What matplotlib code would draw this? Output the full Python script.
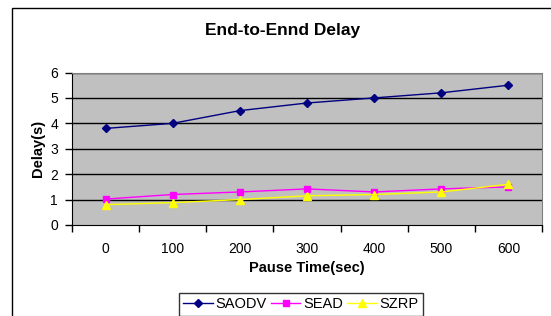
import matplotlib
matplotlib.use("Agg")
import matplotlib.pyplot as plt
from matplotlib.patches import Rectangle

categories = ["0", "100", "200", "300", "400", "500", "600"]
saodv = [3.8, 4.0, 4.5, 4.8, 5.0, 5.2, 5.5]
sead = [1.02, 1.2, 1.3, 1.42, 1.3, 1.42, 1.5]
szrp = [0.8, 0.88, 1.0, 1.15, 1.2, 1.3, 1.6]
yticks = [0, 1, 2, 3, 4, 5, 6]

plt.rcParams['font.family'] = ['Liberation Sans', 'DejaVu Sans']

W, H = 551, 316
fig = plt.figure(figsize=(W/100, H/100), dpi=100)
fig.patches.append(Rectangle((12/W, -0.1), 1.2, 1 - 8/H + 0.1, transform=fig.transFigure,
                             fill=False, edgecolor='black', linewidth=1.0))

ax = fig.add_axes([72/W, 1 - 225/H, 470/W, (225 - 72.5)/H])
ax.set_facecolor('#C0C0C0')
x = list(range(len(categories)))
ax.plot(x, saodv, color='#000080', marker='D', markersize=4, linewidth=1, label='SAODV')
ax.plot(x, sead, color='#FF00FF', marker='s', markersize=5, linewidth=1, label='SEAD')
ax.plot(x, szrp, color='#FFFF00', marker='^', markersize=6, linewidth=1, label='SZRP')

ax.set_xlim(-0.5, len(categories) - 0.5)
ax.set_ylim(0, 6)
ax.set_yticks(yticks)
ax.set_yticklabels([str(v) for v in yticks], fontsize=10)
ax.set_xticks([i - 0.5 for i in range(len(categories) + 1)])
ax.set_xticklabels([])
ax.set_xticks(x, minor=True)
ax.set_xticklabels(categories, minor=True, fontsize=10)
ax.tick_params(axis='x', which='major', length=5, direction='out', width=1)
ax.tick_params(axis='x', which='minor', length=0, pad=12)
ax.tick_params(axis='y', length=5, direction='out', width=1, pad=5)
for v in yticks[1:]:
    ax.axhline(v, color='black', linewidth=1, zorder=1)
for s in ['top', 'right']:
    ax.spines[s].set_color('#808080')
for s in ['left', 'bottom']:
    ax.spines[s].set_color('black')

ax.set_xlabel('Pause Time(sec)', fontsize=10.5, fontweight='bold', labelpad=4)
ax.set_ylabel('Delay(s)', fontsize=10.5, fontweight='bold', labelpad=4)
fig.text(283/W, 1 - 30/H, 'End-to-Ennd Delay', fontsize=12.5, fontweight='bold',
         ha='center', va='center')

leg = fig.legend(loc='upper left', bbox_to_anchor=(179/W, 1 - 293/H), ncol=3,
                 fontsize=10.5, frameon=True, fancybox=False, edgecolor='black',
                 borderpad=0.3, handlelength=2.0, columnspacing=0.3, handletextpad=0.2,
                 borderaxespad=0)
leg.get_frame().set_linewidth(1)

fig.savefig('out.png', dpi=100, facecolor='white')
